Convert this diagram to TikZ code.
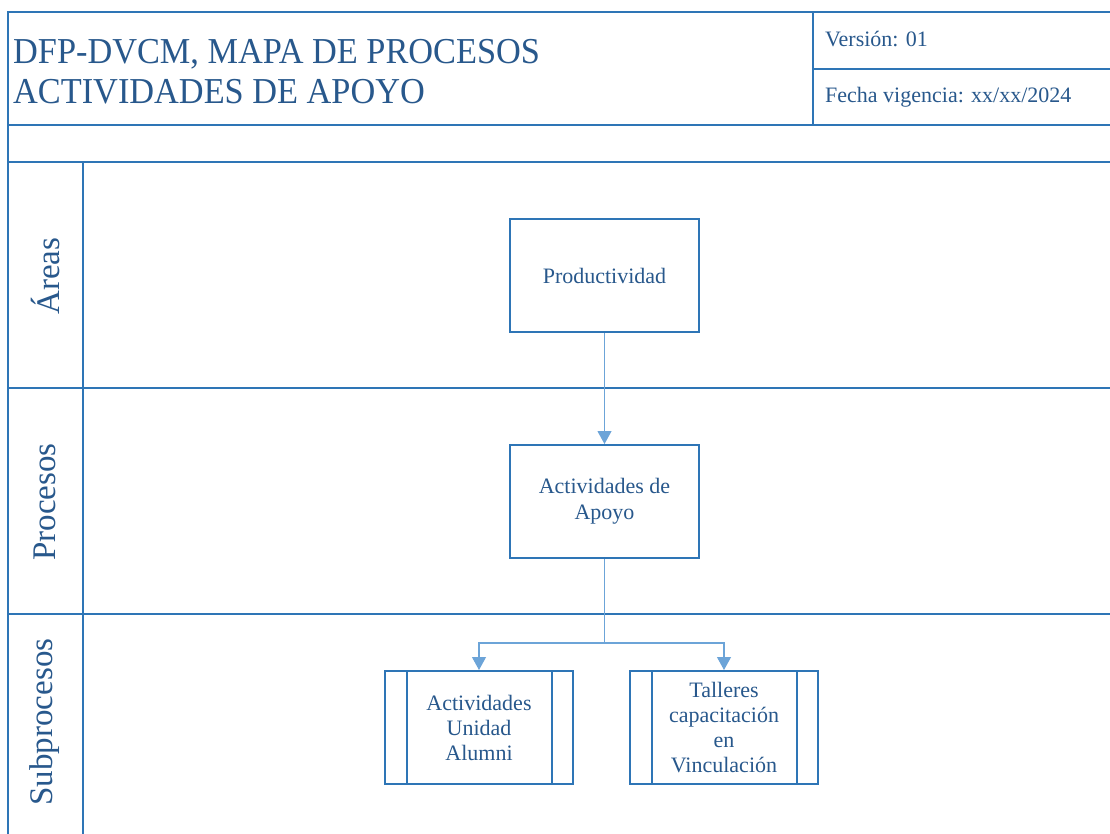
\documentclass[tikz,border=0pt]{standalone}
\usepackage{fontspec}
\setmainfont{Liberation Serif}
\newfontfamily\titlefont[FakeStretch=0.94]{Liberation Serif}
\usetikzlibrary{arrows.meta}
\definecolor{frameblue}{RGB}{46,117,182}
\definecolor{textblue}{RGB}{40,88,140}
\definecolor{linkblue}{RGB}{108,164,216}
\tikzset{
  frame/.style={draw=frameblue, line width=2pt},
  procbox/.style={draw=frameblue, line width=2pt, minimum width=189pt, minimum height=113pt,
    align=center, text=textblue, inner sep=2pt, font=\fontsize{22}{26}\selectfont},
  subbox/.style={draw=frameblue, line width=2pt, minimum width=188pt, minimum height=113pt,
    align=center, text=textblue, inner sep=2pt, font=\fontsize{22}{25}\selectfont},
  lanelabel/.style={rotate=90, text=textblue, font=\fontsize{33}{38}\selectfont, inner sep=0pt},
  headtext/.style={anchor=base west, text=textblue, inner sep=0pt, font=\fontsize{22}{26}\selectfont},
  titletext/.style={anchor=base west, text=textblue, inner sep=0pt, font=\titlefont\fontsize{36.5}{40}\selectfont},
  link/.style={draw=linkblue, line width=1.1pt},
  linkarrow/.style={link, -{Triangle[width=14pt,length=13pt]}}
}
\begin{document}
\begin{tikzpicture}[x=1pt,y=-1pt]
\useasboundingbox (0,0) rectangle (1110,834);
\fill[white] (0,0) rectangle (1110,834);
% frame
\draw[frame] (1120,12) -- (8,12) -- (8,844);
\draw[frame] (8,125) -- (1120,125);
\draw[frame] (8,162) -- (1120,162);
\draw[frame] (813,12) -- (813,125);
\draw[frame] (813,69) -- (1120,69);
\draw[frame] (83,162) -- (83,844);
\draw[frame] (8,388) -- (1120,388);
\draw[frame] (8,614) -- (1120,614);
% header texts
\node[titletext] (t1) at (13,64) {DFP-DVCM, MAPA DE PROCESOS};
\node[titletext] (t2) at (13,104) {ACTIVIDADES DE APOYO};
\node[headtext] (ver) at (825,47) {Versión: 01};
\node[headtext] (fecha) at (825,103) {Fecha vigencia: xx/xx/2024};
% lane labels
\node[lanelabel] (lareas) at (45,276) {Áreas};
\node[lanelabel] (lproc) at (45,502) {Procesos};
\node[lanelabel] (lsub) at (45,722) {Subprocesos};
% boxes
\node[procbox] (prod) at (604.5,275.5) {Productividad};
\node[procbox] (apoyo) at (604.5,501.5) {Actividades de\\Apoyo};
\node[subbox] (alumni) at (479,727.5) {Actividades\\Unidad\\Alumni};
\node[subbox] (talleres) at (724,727.5) {Talleres\\capacitación\\en\\Vinculación};
\foreach \b in {alumni,talleres}{
  \draw[frameblue, line width=2pt] ([xshift=23pt]\b.north west) -- ([xshift=23pt]\b.south west);
  \draw[frameblue, line width=2pt] ([xshift=-22pt]\b.north east) -- ([xshift=-22pt]\b.south east);
}
% connectors
\draw[linkarrow] (prod.south) -- (apoyo.north);
\coordinate (split) at (604.5,643);
\draw[link] (apoyo.south) -- (split);
\draw[linkarrow] (split) -| (alumni.north);
\draw[linkarrow] (split) -| (talleres.north);
\end{tikzpicture}
\end{document}
